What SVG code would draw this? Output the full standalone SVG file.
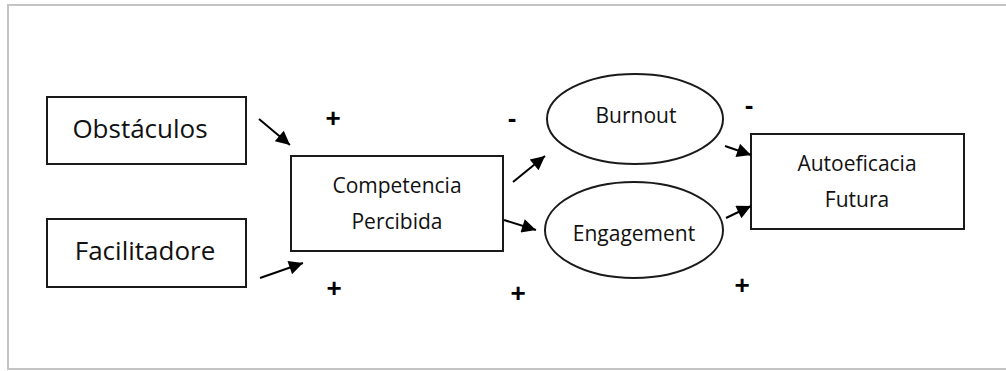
<svg xmlns="http://www.w3.org/2000/svg" width="1006" height="371" viewBox="0 0 1006 371">
<style>
.box{fill:#fff;stroke:#1a1a1a;stroke-width:2}
.ell{fill:#fff;stroke:#1a1a1a;stroke-width:2}
.t{font-family:"Open Sans","Liberation Sans",sans-serif;fill:#111;text-anchor:middle}
.big{font-size:26px}
.mid{font-size:21px}
.edge{stroke:#000;stroke-width:2;fill:none;marker-end:url(#ah)}
.sign{font-family:"Liberation Sans",sans-serif;font-weight:bold;font-size:26px;fill:#000;text-anchor:middle}
</style>
<defs>
<marker id="ah" viewBox="0 0 10 10" refX="10" refY="5" markerWidth="8" markerHeight="7" markerUnits="strokeWidth" orient="auto">
<path d="M0,0 L10,5 L0,10 z" fill="#000"/>
</marker>
</defs>
<rect width="1006" height="371" fill="#fff"/>
<g id="frame" fill="none" stroke="#c4c4c4" stroke-width="2">
<path d="M1006,5 H8 V369 H1006"/>
</g>
<g id="obstaculos">
<rect class="box" x="47" y="97" width="199" height="67"/>
<text class="t big" x="140" y="138">Obstáculos</text>
</g>
<g id="facilitadore">
<rect class="box" x="47" y="219" width="199" height="68"/>
<text class="t big" x="145" y="260">Facilitadore</text>
</g>
<g id="competencia">
<rect class="box" x="291" y="156" width="212" height="95"/>
<text class="t mid" x="397" y="193">Competencia</text>
<text class="t mid" x="397" y="229">Percibida</text>
</g>
<g id="burnout">
<ellipse class="ell" cx="635" cy="119" rx="88" ry="45"/>
<text class="t mid" x="636" y="123">Burnout</text>
</g>
<g id="engagement">
<ellipse class="ell" cx="634" cy="230" rx="89" ry="48"/>
<text class="t mid" x="634" y="241">Engagement</text>
</g>
<g id="autoeficacia">
<rect class="box" x="751" y="134" width="213" height="95"/>
<text class="t mid" x="857" y="171">Autoeficacia</text>
<text class="t mid" x="857" y="207">Futura</text>
</g>
<g id="connectors">
<line class="edge" x1="259" y1="119" x2="290" y2="145"/>
<line class="edge" x1="260" y1="278" x2="303" y2="263"/>
<line class="edge" x1="513" y1="182" x2="545" y2="156"/>
<line class="edge" x1="504" y1="220" x2="536" y2="230"/>
<line class="edge" x1="725" y1="146" x2="751" y2="155"/>
<line class="edge" x1="726" y1="218" x2="751" y2="206"/>
</g>
<g id="signs">
<text class="sign" x="333" y="127">+</text>
<text class="sign" x="512" y="127">-</text>
<text class="sign" x="749" y="114">-</text>
<text class="sign" x="334" y="297">+</text>
<text class="sign" x="518" y="302">+</text>
<text class="sign" x="742" y="294">+</text>
</g>
</svg>
